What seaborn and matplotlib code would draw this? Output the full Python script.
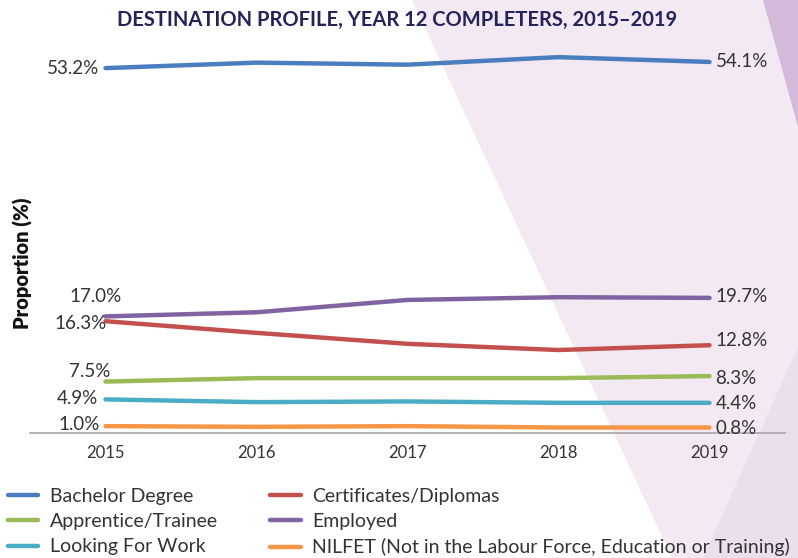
import matplotlib
matplotlib.use("Agg")
import matplotlib.pyplot as plt
from matplotlib.patches import Polygon
from matplotlib.lines import Line2D
import pandas as pd
import seaborn as sns

years = ["2015", "2016", "2017", "2018", "2019"]
bachelor = [53.2, 54.0, 53.7, 54.8, 54.1]
certificates = [16.3, 14.6, 13.0, 12.1, 12.8]
apprentice = [7.5, 8.0, 8.0, 8.0, 8.3]
employed = [17.0, 17.6, 19.4, 19.8, 19.7]
looking = [4.9, 4.5, 4.6, 4.4, 4.4]
nilfet = [1.0, 0.9, 1.0, 0.8, 0.8]

series_names = ["Bachelor Degree", "Certificates/Diplomas", "Apprentice/Trainee",
                "Employed", "Looking For Work",
                "NILFET (Not in the Labour Force, Education or Training)"]
series_values = [bachelor, certificates, apprentice, employed, looking, nilfet]
colors = ["#4a7ebf", "#c4504d", "#9bbb59", "#8064a2", "#4bacc6", "#f79646"]

# label offsets in pixels for the start (dx, dy) and end (dy) values
left_dx = [-6, 1, 5, 16, -7, -6]
left_dy = [0, -2, 10, 20, 1, 2]
right_dy = [0, 5, -2, 1, -1, -1]

rows = []
for name, vals in zip(series_names, series_values):
    for yr, v in zip(years, vals):
        rows.append({"year": yr, "value": v, "series": name})
df = pd.DataFrame(rows)

sns.set_style("white")
plt.rcParams["font.family"] = ["Lato", "DejaVu Sans"]

fig = plt.figure(figsize=(7.98, 5.58), dpi=100)

# background shapes (figure coordinates)
W, H = 798.0, 558.0
def fpoly(pts, color):
    p = Polygon([(x / W, 1 - y / H) for x, y in pts], closed=True,
                transform=fig.transFigure, facecolor=color, edgecolor="none", zorder=-10)
    fig.patches.append(p)

fpoly([(412, 0), (798, 0), (798, 558), (672, 558)], "#f3e9f3")
fpoly([(798, 347), (798, 558), (703, 558)], "#ebdfee")
fpoly([(763, 0), (798, 0), (798, 127)], "#d3b9da")

ax = fig.add_axes([30 / W, 1 - 433 / H, 755 / W, 393 / H])
ax.patch.set_alpha(0)

sns.lineplot(data=df, x="year", y="value", hue="series", hue_order=series_names,
             palette=colors, linewidth=3.2, legend=False, ax=ax,
             solid_capstyle="round")

ax.set_xlim(-0.5, 4.5)
ax.set_ylim(0, 57.3)
ax.set_yticks([])
ax.set_xlabel("")
ax.set_ylabel("")
for s in ["left", "right", "top"]:
    ax.spines[s].set_visible(False)
ax.spines["bottom"].set_color("#a6a6a6")
ax.spines["bottom"].set_linewidth(1.2)

ax.set_xticks(range(5))
ax.set_xticklabels(years, fontsize=12, color="#333333")
ax.set_xticks([i - 0.5 for i in range(6)], minor=True)
ax.tick_params(axis="x", which="major", length=0, pad=9)
ax.tick_params(axis="x", which="minor", length=7, width=1.2, color="#a6a6a6",
               direction="out")

px = 0.72
for vals, ldx, ldy, rdy in zip(series_values, left_dx, left_dy, right_dy):
    ax.annotate(f"{vals[0]:.1f}%", xy=(0, vals[0]), xytext=(ldx * px, ldy * px),
                textcoords="offset points", ha="right", va="center",
                fontsize=13.5, color="#333333")
    ax.annotate(f"{vals[-1]:.1f}%", xy=(4, vals[-1]), xytext=(6 * px, rdy * px),
                textcoords="offset points", ha="left", va="center",
                fontsize=13.5, color="#333333")

fig.text(397 / W, 1 - 20 / H, "DESTINATION PROFILE, YEAR 12 COMPLETERS, 2015–2019",
         ha="center", va="center", fontsize=14.5, fontweight="bold", color="#24245a")
fig.text(23 / W, 1 - 263 / H, "Proportion (%)", rotation=90, ha="center", va="center",
         fontsize=14.5, fontweight="heavy", color="#111111")

# legend: column 1 then column 2
order = [0, 2, 4, 1, 3, 5]
handles = [Line2D([0], [0], color=colors[i], linewidth=3.2, solid_capstyle="round")
           for i in order]
labels = [series_names[i] for i in order]
fig.legend(handles, labels, ncol=2, loc="upper left",
           bbox_to_anchor=(8 / W, 1 - 488 / H), frameon=False, fontsize=14,
           handlelength=1.55, handletextpad=0.6, columnspacing=2.7,
           labelspacing=0.42, borderaxespad=0, borderpad=0, labelcolor="#333333")

fig.savefig("out.png", dpi=100)
